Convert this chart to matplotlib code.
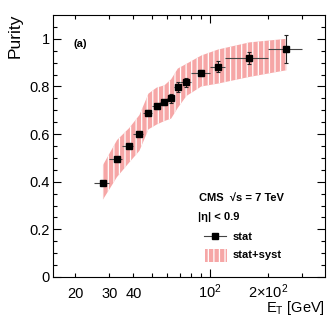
import matplotlib
matplotlib.use("Agg")
import matplotlib.pyplot as plt
from matplotlib.ticker import FixedLocator, FixedFormatter, NullFormatter
from matplotlib.patches import Rectangle
from matplotlib.lines import Line2D
from matplotlib.transforms import blended_transform_factory
import numpy as np

plt.rcParams['font.family'] = ['Liberation Sans', 'DejaVu Sans']
plt.rcParams['mathtext.fontset'] = 'custom'
plt.rcParams['mathtext.rm'] = 'Liberation Sans'
plt.rcParams['mathtext.it'] = 'Liberation Sans:italic'
plt.rcParams['hatch.linewidth'] = 0.9

# Data
et = [27.8, 32.9, 38.0, 43.0, 47.9, 52.8, 58.0, 62.8, 68.0, 75.4, 90.1, 110.0, 160.0, 249.0]
bin_lo = [25, 30, 35, 40, 45, 50, 55, 60, 65, 70, 80, 100, 120, 200]
bin_hi = [30, 35, 40, 45, 50, 55, 60, 65, 70, 80, 100, 120, 200, 300]
purity = [0.395, 0.494, 0.550, 0.600, 0.690, 0.716, 0.733, 0.750, 0.797, 0.817, 0.856, 0.883, 0.918, 0.958]
stat_err = [0.01, 0.01, 0.01, 0.01, 0.01, 0.01, 0.012, 0.02, 0.022, 0.02, 0.012, 0.022, 0.025, 0.058]
band_hi = [0.470, 0.575, 0.625, 0.680, 0.770, 0.795, 0.805, 0.830, 0.875, 0.895, 0.930, 0.955, 0.985, 1.000]
band_lo = [0.325, 0.420, 0.480, 0.530, 0.620, 0.640, 0.655, 0.665, 0.710, 0.760, 0.800, 0.812, 0.840, 0.868]

x_label_pos = [20, 30, 40, 100, 200]
x_label_txt = ['20', '30', '40', r'$\mathregular{10^2}$', r'$\mathregular{2{\times}10^2}$']

W, H = 332, 319
fig = plt.figure(figsize=(W / 100, H / 100), dpi=100)
L, R, T, B = 53, 325, 15, 277
ax = fig.add_axes([L / W, 1 - B / H, (R - L) / W, (B - T) / H])

def fx(px):
    return px / W

def fy(py):
    return 1 - py / H

band_face = '#f6a6a6'
ax.fill_between(et, band_lo, band_hi, facecolor=band_face, edgecolor='white',
                hatch='|||', linewidth=0, zorder=1)

xerr = [np.array(et) - np.array(bin_lo), np.array(bin_hi) - np.array(et)]
ax.errorbar(et, purity, xerr=xerr, fmt='none', ecolor='#444444', elinewidth=0.8, capsize=0, zorder=2)
ax.errorbar(et, purity, yerr=stat_err, fmt='none', ecolor='#222222', elinewidth=0.8, capsize=1.5,
            capthick=0.8, zorder=2)
ax.plot(et, purity, 's', color='black', markersize=4.6, zorder=3)

ax.set_xscale('log')
ax.set_xlim(15.3, 395)
ax.set_ylim(0, 1.1)

ax.xaxis.set_major_locator(FixedLocator([100]))
ax.xaxis.set_major_formatter(NullFormatter())
ax.xaxis.set_minor_locator(FixedLocator([20, 30, 40, 50, 60, 70, 80, 90, 200, 300]))
ax.xaxis.set_minor_formatter(NullFormatter())

ax.yaxis.set_major_locator(FixedLocator([0, 0.2, 0.4, 0.6, 0.8, 1.0]))
ax.yaxis.set_major_formatter(FixedFormatter(['0', '0.2', '0.4', '0.6', '0.8', '1']))
ax.yaxis.set_minor_locator(FixedLocator(np.arange(0.05, 1.1, 0.05)))
ax.yaxis.set_minor_formatter(NullFormatter())

ax.tick_params(which='both', direction='in', top=True, right=True, width=0.8, labelsize=10.5)
ax.tick_params(axis='y', which='major', length=6, pad=2.5)
ax.tick_params(axis='y', which='minor', length=3)
ax.tick_params(axis='x', which='major', length=6)
ax.tick_params(axis='x', which='minor', length=3)
for s in ax.spines.values():
    s.set_linewidth(0.8)

trans = blended_transform_factory(ax.transData, fig.transFigure)
for xv, txt in zip(x_label_pos, x_label_txt):
    ax.text(xv, fy(298), txt, transform=trans, ha='center', va='baseline', fontsize=10.5)

fig.text(fx(15), fy(14), 'Purity', rotation=90, ha='center', va='top', fontsize=12.5)
fig.text(fx(325), fy(312), r'$\mathregular{E_T}$ [GeV]', ha='right', va='baseline', fontsize=10.5)

fig.text(fx(73), fy(47), '(a)', fontsize=8, fontweight='bold', va='baseline')
fig.text(fx(199), fy(201), 'CMS  \u221as = 7 TeV', fontsize=8, fontweight='bold', va='baseline')
fig.text(fx(198), fy(219.5), '|\u03b7| < 0.9', fontsize=8, fontweight='bold', va='baseline')
fig.text(fx(233), fy(239.5), 'stat', fontsize=8, fontweight='bold', va='baseline')
fig.text(fx(233), fy(258.5), 'stat+syst', fontsize=8, fontweight='bold', va='baseline')

fig.add_artist(Line2D([fx(204), fx(226)], [fy(236), fy(236)], color='#444444', lw=0.8))
fig.add_artist(Line2D([fx(215)], [fy(236)], marker='s', color='black', markersize=4.6))
fig.add_artist(Rectangle((fx(205), fy(262)), fx(22), 13 / H, facecolor=band_face,
                         edgecolor='white', hatch='|||', linewidth=0))

fig.savefig('out.png', dpi=100)
